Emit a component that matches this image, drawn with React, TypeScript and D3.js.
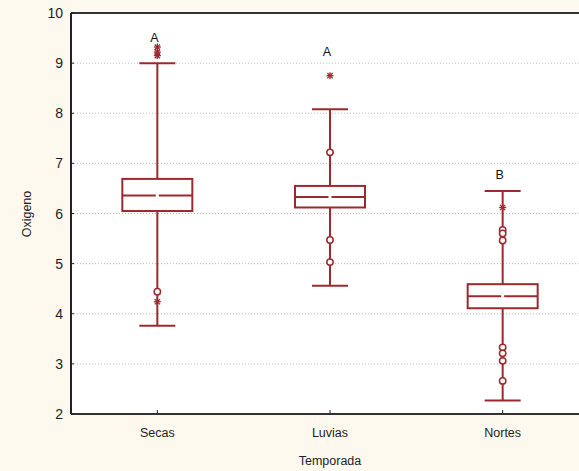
import React from 'react';
import * as d3 from 'd3';

const categories = ['Secas', 'Luvias', 'Nortes'];
const letters = ['A', 'A', 'B'];
const whiskerLow = [3.76, 4.56, 2.27];
const q1 = [6.05, 6.12, 4.11];
const medians = [6.36, 6.33, 4.35];
const q3 = [6.69, 6.55, 4.59];
const whiskerHigh = [9.0, 8.08, 6.45];
const circleOutliers = [
  [4.44],
  [7.22, 5.47, 5.03],
  [5.67, 5.6, 5.46, 3.33, 3.21, 3.06, 2.66],
];
const starOutliers = [
  [9.32, 9.22, 9.15, 4.24],
  [8.75],
  [6.12],
];
const letterY = [9.52, 9.24, 6.78];
const yTicks = [2, 3, 4, 5, 6, 7, 8, 9, 10];

const W = 579;
const H = 471;
const m = { left: 71, top: 13, bottom: 414 };
const RED = '#9b2a2f';
const TXT = '#1c1c2a';
const FONT = '"Liberation Sans", Arial, sans-serif';

export default function App() {
  const x = d3.scalePoint<string>().domain(categories).range([71, 589]).padding(0.5);
  const y = d3.scaleLinear().domain([2, 10]).range([m.bottom, m.top]);
  const boxW = 70;
  const capW = 36;

  const star = (cx: number, cy: number, k: string) => {
    const s = 3.5;
    return (
      <g key={k} stroke={RED} strokeWidth={1.3}>
        <line x1={cx - s} x2={cx + s} y1={cy} y2={cy} />
        <line x1={cx} x2={cx} y1={cy - s} y2={cy + s} />
        <line x1={cx - s * 0.75} x2={cx + s * 0.75} y1={cy - s * 0.75} y2={cy + s * 0.75} />
        <line x1={cx - s * 0.75} x2={cx + s * 0.75} y1={cy + s * 0.75} y2={cy - s * 0.75} />
      </g>
    );
  };

  return (
    <svg width={W} height={H} style={{ position: 'absolute', left: 0, top: 0, display: 'block' }}>
      <rect width={W} height={H} fill="#fef9ef" />
      <rect x={m.left} y={m.top} width={W - m.left} height={m.bottom - m.top} fill="#fff" />
      {/* grid */}
      {yTicks.slice(1, -1).map(t => (
        <line key={t} x1={m.left} x2={W} y1={y(t)} y2={y(t)} stroke="#bdbdbd" strokeWidth={1} strokeDasharray="1,2" />
      ))}
      {/* axes */}
      <line x1={m.left} x2={m.left} y1={m.top} y2={m.bottom} stroke="#222" strokeWidth={2} />
      <line x1={m.left} x2={W} y1={m.top} y2={m.top} stroke="#333" strokeWidth={2} />
      <line x1={m.left} x2={W} y1={m.bottom} y2={m.bottom} stroke="#333" strokeWidth={2} />
      {yTicks.map(t => (
        <g key={t}>
          <line x1={m.left} x2={m.left + 3} y1={y(t)} y2={y(t)} stroke="#222" />
          <text x={63} y={y(t) + 5} textAnchor="end" fontSize={14} fontFamily={FONT} fill={TXT}>{t}</text>
        </g>
      ))}
      {categories.map(c => (
        <g key={c}>
          <line x1={x(c)!} x2={x(c)!} y1={m.bottom} y2={m.bottom - 4} stroke="#222" />
          <text x={x(c)!} y={437} textAnchor="middle" fontSize={12.5} fontFamily={FONT} fill={TXT}>{c}</text>
        </g>
      ))}
      <text x={330} y={465} textAnchor="middle" fontSize={12.5} fontFamily={FONT} fill={TXT}>Temporada</text>
      <text transform={`translate(31,${214}) rotate(-90)`} textAnchor="middle" fontSize={12.5} fontFamily={FONT} fill={TXT}>Oxigeno</text>
      {/* boxes */}
      {categories.map((c, i) => {
        const cx = x(c)!;
        return (
          <g key={c} fill="none" stroke={RED} strokeWidth={2}>
            <line x1={cx} x2={cx} y1={y(whiskerHigh[i])} y2={y(q3[i])} />
            <line x1={cx} x2={cx} y1={y(q1[i])} y2={y(whiskerLow[i])} />
            <line x1={cx - capW / 2} x2={cx + capW / 2} y1={y(whiskerHigh[i])} y2={y(whiskerHigh[i])} />
            <line x1={cx - capW / 2} x2={cx + capW / 2} y1={y(whiskerLow[i])} y2={y(whiskerLow[i])} />
            <rect x={cx - boxW / 2} y={y(q3[i])} width={boxW} height={y(q1[i]) - y(q3[i])} />
            <line x1={cx - boxW / 2} x2={cx - 1.5} y1={y(medians[i])} y2={y(medians[i])} />
            <line x1={cx + 1.5} x2={cx + boxW / 2} y1={y(medians[i])} y2={y(medians[i])} />
            {circleOutliers[i].map((v, j) => (
              <circle key={j} cx={cx} cy={y(v)} r={3.2} fill="#fff" strokeWidth={1.5} />
            ))}
            {starOutliers[i].map((v, j) => star(cx, y(v), `s${j}`))}
            <text x={cx - 3} y={y(letterY[i]) + 5} textAnchor="middle" fontSize={12.5} fontFamily={FONT} fill="#111" stroke="none">{letters[i]}</text>
          </g>
        );
      })}
    </svg>
  );
}
